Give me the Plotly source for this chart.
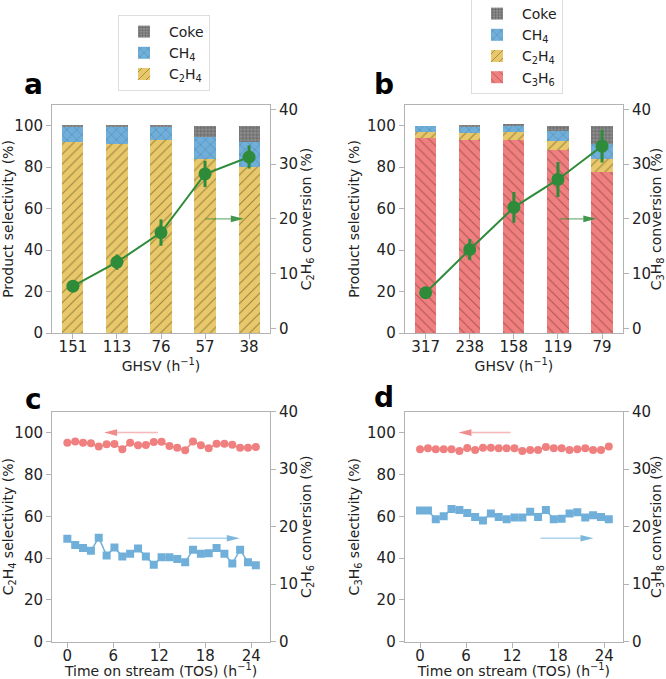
import plotly.graph_objects as go

W, H = 666, 679

# ---------------- data ----------------
ghsv_a = ["151", "113", "76", "57", "38"]
c2h4_a = [92.1, 91.3, 92.9, 84.1, 80.1]
ch4_a = [7.3, 8.1, 6.5, 10.5, 12.0]
coke_a = [0.6, 0.6, 0.6, 5.4, 7.9]
conv_a = [7.7, 12.1, 17.5, 28.2, 31.3]
conv_a_err = [0.5, 1.4, 2.4, 2.4, 2.1]

ghsv_b = ["317", "238", "158", "119", "79"]
c3h6_b = [94.2, 93.3, 92.9, 88.1, 77.7]
c2h4_b = [2.8, 3.2, 3.9, 4.4, 6.1]
ch4_b = [3.0, 3.2, 2.9, 4.8, 7.2]
coke_b = [0.0, 0.3, 1.3, 2.7, 9.0]
conv_b = [6.5, 14.4, 22.1, 27.2, 33.3]
conv_b_err = [0.5, 1.9, 2.8, 3.2, 3.0]

tos = [0, 1.03, 2.05, 3.08, 4.1, 5.13, 6.15, 7.18, 8.2, 9.23, 10.25, 11.28, 12.3,
       13.33, 14.35, 15.38, 16.4, 17.43, 18.45, 19.48, 20.5, 21.53, 22.55, 23.58, 24.6]
sel_c = [95.2, 95.7, 95.2, 94.9, 93.3, 94.4, 94.6, 92.0, 95.2, 93.9, 94.1, 95.5, 95.6,
         93.6, 92.8, 91.6, 95.8, 94.0, 92.5, 94.7, 94.7, 94.2, 92.8, 92.8, 93.1]
conv_c = [17.9, 16.8, 16.3, 15.8, 18.1, 15.0, 16.4, 14.8, 15.3, 16.2, 14.8, 13.4, 14.7,
          14.7, 14.4, 13.8, 16.0, 15.3, 15.4, 16.3, 15.3, 13.6, 16.0, 13.8, 13.3]
sel_d = [92.0, 92.5, 92.0, 92.0, 92.0, 91.2, 92.6, 91.7, 92.8, 92.8, 92.5, 92.5, 92.5,
         91.2, 91.7, 91.7, 93.1, 92.5, 92.5, 91.7, 92.0, 92.5, 91.7, 91.7, 93.3]
conv_d = [22.8, 22.8, 21.3, 21.8, 23.1, 22.9, 22.4, 21.7, 21.1, 22.3, 21.7, 21.3, 21.6,
          21.6, 22.6, 21.7, 22.9, 21.3, 21.4, 22.3, 22.5, 21.6, 22.0, 21.7, 21.3]
tos_ticks = [0, 6, 12, 18, 24]

# ---------------- styles ----------------
YEL = "#E8C86A"
BLU = "#6FAFDA"
GRY = "#8E8E8E"
RED = "#F08080"
GRN = "#2E8B3A"
SPINE = "#b3b3b3"
TXT = "#222222"
FONT = "DejaVu Sans"

pos = list(range(5))

def pat(shape, fg, size, sol):
    return dict(shape=shape, fgcolor=fg, size=size, solidity=sol, fillmode="overlay")

fig = go.Figure()

def bar(x, y, name, color, pattern, xa, ya, legend, show=True):
    fig.add_trace(go.Bar(x=x, y=y, name=name, width=0.48,
                         marker=dict(color=color, line=dict(width=0), pattern=pattern),
                         xaxis=xa, yaxis=ya, legend=legend, showlegend=show))

# panel a
bar(pos, c2h4_a, "C<sub>2</sub>H<sub>4</sub>", YEL, pat("/", "#4a3d18", 7, 0.15), "x", "y", "legend")
bar(pos, ch4_a, "CH<sub>4</sub>", BLU, pat("x", "#24425e", 7, 0.12), "x", "y", "legend")
bar(pos, coke_a, "Coke", GRY, pat("+", "#333333", 3.5, 0.35), "x", "y", "legend")
fig.add_trace(go.Scatter(x=pos, y=conv_a, mode="lines+markers", xaxis="x", yaxis="y2",
                         line=dict(color=GRN, width=2), marker=dict(size=13, color=GRN),
                         error_y=dict(type="data", array=conv_a_err, color=GRN, thickness=3, width=0),
                         showlegend=False))
# panel b
bar(pos, c3h6_b, "C<sub>3</sub>H<sub>6</sub>", RED, pat("\\", "#6a2a2a", 7, 0.15), "x2", "y3", "legend2")
bar(pos, c2h4_b, "C<sub>2</sub>H<sub>4</sub>", YEL, pat("/", "#4a3d18", 7, 0.15), "x2", "y3", "legend2")
bar(pos, ch4_b, "CH<sub>4</sub>", BLU, pat("x", "#24425e", 7, 0.12), "x2", "y3", "legend2")
bar(pos, coke_b, "Coke", GRY, pat("+", "#333333", 3.5, 0.35), "x2", "y3", "legend2")
fig.add_trace(go.Scatter(x=pos, y=conv_b, mode="lines+markers", xaxis="x2", yaxis="y4",
                         line=dict(color=GRN, width=2), marker=dict(size=13, color=GRN),
                         error_y=dict(type="data", array=conv_b_err, color=GRN, thickness=3, width=0),
                         showlegend=False))
# panel c
fig.add_trace(go.Scatter(x=tos, y=sel_c, mode="lines+markers", xaxis="x3", yaxis="y5",
                         line=dict(color=RED, width=1.5), marker=dict(size=8, color=RED),
                         showlegend=False))
fig.add_trace(go.Scatter(x=tos, y=conv_c, mode="lines+markers", xaxis="x3", yaxis="y6",
                         line=dict(color=BLU, width=1.5), marker=dict(size=8, color=BLU, symbol="square"),
                         showlegend=False))
# panel d
fig.add_trace(go.Scatter(x=tos, y=sel_d, mode="lines+markers", xaxis="x4", yaxis="y7",
                         line=dict(color=RED, width=1.5), marker=dict(size=8, color=RED),
                         showlegend=False))
fig.add_trace(go.Scatter(x=tos, y=conv_d, mode="lines+markers", xaxis="x4", yaxis="y8",
                         line=dict(color=BLU, width=1.5), marker=dict(size=8, color=BLU, symbol="square"),
                         showlegend=False))

# ---------------- layout ----------------
def px_dom_x(l, r):
    return [l / W, r / W]

def px_dom_y(t, b):
    return [1 - b / H, 1 - t / H]

DA_X = px_dom_x(52, 270)
DB_X = px_dom_x(404.7, 623)
DTOP_Y = px_dom_y(105, 333)
DBOT_Y = px_dom_y(411.7, 641.7)

XR_BAR = [-0.475, 4.475]
XR_T = [-2, 26.45]
YR_L = [0, 110]
YR_R_TOP = [-0.85, 40.8]
YR_R_BOT = [0, 40]

tickfont = dict(family=FONT, size=15, color=TXT)
titlefont = dict(family=FONT, size=14, color=TXT)

def xax(dom, anchor, rng, title, tickvals, ticktext=None):
    d = dict(domain=dom, anchor=anchor, range=rng, showgrid=False, zeroline=False,
             showline=True, linecolor=SPINE, linewidth=1, mirror=True,
             ticks="outside", ticklen=5, tickcolor=SPINE, tickwidth=1,
             tickfont=tickfont, tickvals=tickvals, ticklabelstandoff=-5,
             title=dict(text=title, font=titlefont, standoff=3))
    if ticktext is not None:
        d["ticktext"] = ticktext
    return d

def yax(dom, anchor, rng, title, side="left", overlaying=None, dtick=20):
    d = dict(domain=dom, anchor=anchor, range=rng, showgrid=False, zeroline=False,
             showline=True, linecolor=SPINE, linewidth=1, side=side,
             ticks="outside", ticklen=5, tickcolor=SPINE, tickwidth=1,
             tickfont=tickfont, tickmode="linear", tick0=0, dtick=dtick,
             title=dict(text=title, font=titlefont, standoff=4))
    if overlaying:
        d["overlaying"] = overlaying
    return d

ghsv_title = "GHSV (h<sup>−1</sup>)"
tos_title = "Time on stream (TOS) (h<sup>−1</sup>)"

legfont = dict(family=FONT, size=14, color=TXT)
fig.update_layout(
    width=W, height=H, margin=dict(l=0, r=0, t=0, b=0, autoexpand=False),
    paper_bgcolor="white", plot_bgcolor="white",
    barmode="stack", font=dict(family=FONT, color=TXT),
    xaxis=xax(DA_X, "y", XR_BAR, ghsv_title, pos, ghsv_a),
    yaxis=yax(DTOP_Y, "x", YR_L, "Product selectivity (%)"),
    yaxis2=yax(DTOP_Y, "x", YR_R_TOP, "C<sub>2</sub>H<sub>6</sub> conversion (%)", "right", "y", 10),
    xaxis2=xax(DB_X, "y3", XR_BAR, ghsv_title, pos, ghsv_b),
    yaxis3=yax(DTOP_Y, "x2", YR_L, "Product selectivity (%)"),
    yaxis4=yax(DTOP_Y, "x2", YR_R_TOP, "C<sub>3</sub>H<sub>8</sub> conversion (%)", "right", "y3", 10),
    xaxis3=xax(DA_X, "y5", XR_T, tos_title, tos_ticks),
    yaxis5=yax(DBOT_Y, "x3", YR_L, "C<sub>2</sub>H<sub>4</sub> selectivity (%)"),
    yaxis6=yax(DBOT_Y, "x3", YR_R_BOT, "C<sub>2</sub>H<sub>6</sub> conversion (%)", "right", "y5", 10),
    xaxis4=xax(DB_X, "y7", XR_T, tos_title, tos_ticks),
    yaxis7=yax(DBOT_Y, "x4", YR_L, "C<sub>3</sub>H<sub>6</sub> selectivity (%)"),
    yaxis8=yax(DBOT_Y, "x4", YR_R_BOT, "C<sub>3</sub>H<sub>8</sub> conversion (%)", "right", "y7", 10),
    legend=dict(x=118 / W, y=1 - 15 / H, xanchor="left", yanchor="top",
                traceorder="reversed", font=legfont,
                bgcolor="white", bordercolor="#dddddd", borderwidth=1, itemwidth=40),
    legend2=dict(x=471 / W, y=1 + 3 / H, xanchor="left", yanchor="top",
                 traceorder="reversed", font=legfont,
                 bgcolor="white", bordercolor="#dddddd", borderwidth=1, itemwidth=40),
)

# panel letters
for txt, x, y in [("a", 33, 84), ("b", 384, 84), ("c", 33, 399), ("d", 384, 397)]:
    fig.add_annotation(text="<b>%s</b>" % txt, x=x / W, y=1 - y / H, xref="paper", yref="paper",
                       showarrow=False, font=dict(family=FONT, size=28, color="black"),
                       xanchor="center", yanchor="middle")

# direction arrows (line + head) ----------------------------------------
def add_arrow(xref, yref, xdom, ydom, xr, yr, x0, x1, y, color):
    pxx = (xdom[1] - xdom[0]) * W / (xr[1] - xr[0])
    pxy = (ydom[1] - ydom[0]) * H / (yr[1] - yr[0])
    hl = 13 / pxx
    hw = 3.3 / pxy
    d = 1 if x1 > x0 else -1
    base = x1 - d * hl
    fig.add_shape(type="line", xref=xref, yref=yref, x0=x0, x1=base, y0=y, y1=y,
                  line=dict(color=color, width=1.5), opacity=0.55)
    fig.add_shape(type="path", xref=xref, yref=yref,
                  path="M %f,%f L %f,%f L %f,%f Z" % (x1, y, base, y + hw, base, y - hw),
                  fillcolor=color, line=dict(width=0), opacity=0.9)

add_arrow("x", "y2", DA_X, DTOP_Y, XR_BAR, YR_R_TOP, 3.01, 3.88, 20, GRN)
add_arrow("x2", "y4", DB_X, DTOP_Y, XR_BAR, YR_R_TOP, 3.04, 3.87, 20, GRN)
add_arrow("x3", "y5", DA_X, DBOT_Y, XR_T, YR_L, 11.8, 4.8, 100, RED)
add_arrow("x3", "y6", DA_X, DBOT_Y, XR_T, YR_R_BOT, 15.7, 22.5, 18, BLU)
add_arrow("x4", "y7", DB_X, DBOT_Y, XR_T, YR_L, 11.8, 5.0, 100, RED)
add_arrow("x4", "y8", DB_X, DBOT_Y, XR_T, YR_R_BOT, 15.7, 22.6, 18, BLU)

fig.write_html("out.html")
